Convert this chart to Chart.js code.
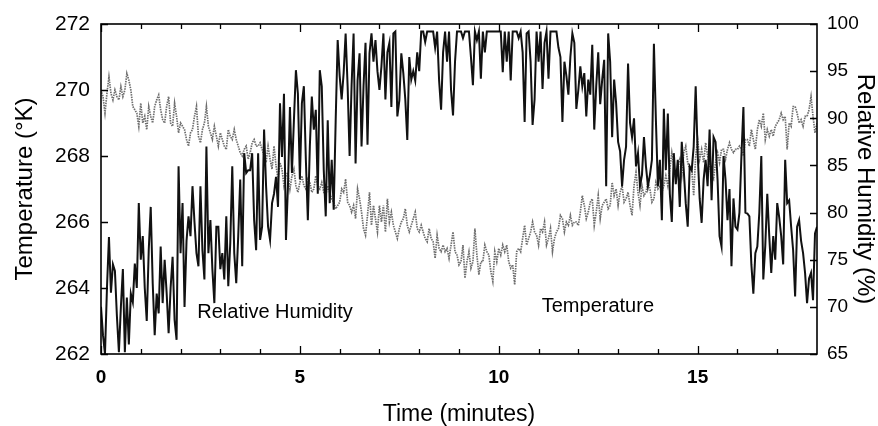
<!DOCTYPE html>
<html>
<head>
<meta charset="utf-8">
<script src="https://cdn.jsdelivr.net/npm/chart.js@4"></script>
<style>
html,body{margin:0;padding:0;background:#fff;}
#wrap{width:878px;height:426px;position:relative;}
</style>
</head>
<body>
<div id="wrap"><canvas id="c" width="878" height="426"></canvas></div>
<script>
// ---- DATA ----
const sampleStepMin = 0.05; // minutes between samples
const xMajorTicks = [0, 5, 10, 15];
const xMinorTicks = [1, 2, 3, 4, 6, 7, 8, 9, 11, 12, 13, 14, 16, 17];
const tempTicks = [262, 264, 266, 268, 270, 272];
const rhTicks = [65, 70, 75, 80, 85, 90, 95, 100];

// Relative humidity (%), right axis, one row per minute
const humidity = [
70, 67, 65, 72, 77.4, 71.5, 74.5, 73.8, 69, 65.2, 70, 74, 65.2, 71, 66, 71.4, 70.5, 74.6, 72, 81,
75, 77.5, 72, 68.5, 76, 80.6, 72.5, 67, 71.4, 69.3, 76.4, 70.4, 75, 71.5, 67.2, 72, 75.3, 68.6, 66.5, 84.9,
75.7, 81, 70, 77, 79.6, 77.5, 82.8, 79, 75.7, 74.3, 82.8, 76, 72.9, 87, 75.7, 79.2, 74, 70.4, 78.5, 78.5,
74, 75.7, 72.9, 79.6, 72.2, 76.8, 84.9, 75.7, 72.5, 77.5, 83.5, 74.3, 86.3, 84.2, 84.5, 84.5, 86.3, 79.2, 76, 86.3,
77.1, 78.5, 88.8, 82.8, 78.5, 77.1, 81, 82, 83.8, 80.6, 91.6, 85.9, 92.6, 77.1, 82.8, 91.2, 84.2, 89.8, 95.1, 92.6,
83.5, 91.6, 93.4, 85.6, 79.2, 87, 92.3, 88.8, 90.9, 82, 95.1, 93.4, 84.5, 79.6, 89.8, 81, 85.6, 80.3, 89.8, 98.3,
94.5, 92, 94.8, 99, 93.4, 86, 93.5, 99, 85.2, 94, 96.9, 87, 93.4, 98, 87.2, 96.9, 99, 96, 98.3, 95,
93, 95.5, 99, 92, 97, 98, 91.2, 99, 99.2, 90.2, 91.9, 96.9, 94.8, 92, 87.7, 96.5, 94.1, 95, 94, 97,
95, 99.2, 99.2, 98.1, 99.2, 99.2, 99.2, 99.2, 97.5, 99.2, 94, 90.9, 97, 99.2, 96, 99.2, 93, 90.3, 96, 99.2,
99.2, 99.2, 98.5, 99.2, 99.2, 99.2, 96.5, 93.5, 99.2, 98.3, 99.2, 94.2, 99.2, 97, 99.2, 99.2, 99.2, 99.2, 99.2, 99.2,
99.2, 99.2, 94.9, 99.2, 96, 99.2, 94, 99.2, 99.2, 99.2, 98.5, 99.2, 97, 89.6, 99, 99.2, 96, 89.3, 92, 99.2,
96, 99.2, 93.1, 98, 99.2, 94.2, 99.2, 99.2, 99.2, 99.2, 97.5, 96.5, 89.6, 96, 94.5, 92.5, 96.5, 99, 98, 91,
93, 95.5, 93.4, 94.8, 90.2, 94.1, 92.5, 97.8, 88.8, 93.4, 97, 91.5, 94.1, 96.2, 82.8, 99, 96, 88, 94.1, 91.6,
87.5, 86.5, 82.8, 85.6, 87, 95.8, 89.5, 88, 90, 84.9, 86.3, 82.8, 84, 88, 84.9, 82.8, 84, 85.6, 97.9, 89.8,
82.8, 85.6, 79.2, 91, 84.5, 90.5, 82, 79, 86.3, 83, 85.6, 80.6, 87.5, 84.5, 81, 78.5, 84.9, 84.5, 87, 93.4,
86.3, 81.5, 78.9, 83.5, 85.6, 82.8, 88.8, 81.3, 88, 87.5, 83.5, 77.5, 76.4, 86, 83.5, 79.2, 82.5, 74.3, 81.5, 78.5,
78.2, 80, 86, 91.2, 80, 79.9, 79.6, 74.5, 71.4, 75.7, 76.4, 80, 86, 72.9, 76.5, 82, 77.5, 73.6, 77.5, 75,
81, 79.5, 77.5, 74.5, 85.6, 81, 81.3, 78.5, 76, 71.1, 78.5, 79.2, 77, 75.7, 73.6, 70.4, 73, 73.6, 70.7, 77.8, 78.5
];

// Temperature (K), left axis, one row per minute
const temperature = [
270.0, 269.8, 269.3, 269.9, 270.4, 269.9, 269.7, 270.0, 269.8, 269.7, 270.1, 269.8, 270.0, 270.5, 270.3, 270.0, 269.5, 269.4, 269.3, 268.9,
269.6, 269.0, 269.2, 268.8, 269.5, 269.2, 269.0, 269.5, 269.7, 269.85, 269.4, 269.1, 269.0, 269.5, 269.8, 269.0, 268.9, 269.6, 269.2, 268.7,
269.0, 268.9, 268.8, 268.5, 268.3, 268.7, 268.8, 269.2, 269.5, 268.6, 268.4, 268.8, 269.0, 269.5, 268.9, 268.7, 268.5, 268.9, 268.6, 268.3,
268.7, 268.5, 268.3, 268.2, 268.8, 268.6, 268.5, 268.8, 268.5, 268.3, 268.1, 268.0, 268.2, 268.3, 267.9, 268.1, 268.4, 268.5, 268.3, 268.3,
268.4, 268.2, 268.0, 267.8, 268.3, 267.9, 267.6, 268.3, 267.7, 267.3, 267.8, 267.6, 267.1, 267.4, 267.5, 267.0, 267.4, 267.6, 267.1, 266.9,
267.2, 267.4, 267.1, 267.0, 267.3, 267.2, 266.9, 267.0, 267.4, 267.1, 267.0, 267.2, 266.9, 266.8, 267.1, 266.9, 266.7, 266.6, 266.4, 266.5,
266.6, 267.0, 266.9, 267.3, 266.6, 266.5, 266.3, 266.5, 266.1, 267.0, 266.7, 266.3, 265.8, 265.6, 266.2, 266.9, 265.9, 266.5, 266.1, 265.7,
266.5, 266.0, 266.5, 265.7, 266.7, 266.0, 266.3, 265.9, 265.7, 265.5, 265.8, 266.0, 266.1, 266.4, 265.9, 265.7, 265.9, 266.1, 266.3, 265.8,
265.7, 265.9, 265.7, 265.5, 265.4, 265.8, 265.5, 265.4, 264.9, 265.6, 265.2, 265.1, 265.3, 265.1, 265.2, 264.9, 265.3, 265.7, 265.1, 265.0,
264.7, 264.8, 265.3, 264.3, 264.8, 265.1, 264.6, 264.8, 265.8, 265.0, 264.4, 264.8, 264.8, 265.3, 265.1, 265.0, 264.5, 264.2, 265.1, 264.8,
265.2, 265.0, 265.3, 265.1, 265.3, 264.8, 264.6, 264.7, 264.1, 265.1, 265.2, 265.1, 265.5, 265.9, 265.3, 265.5, 265.7, 266.0, 265.7, 265.6,
265.3, 265.8, 265.7, 266.0, 265.3, 265.5, 265.8, 265.1, 265.5, 265.7, 265.8, 266.2, 266.1, 265.7, 266.0, 265.9, 266.2, 265.9, 266.0, 266.0,
265.9, 266.3, 266.8, 266.5, 266.1, 266.3, 266.6, 266.7, 265.9, 266.3, 266.8, 266.1, 266.5, 266.6, 266.7, 266.4, 266.5, 267.2, 266.8, 267.0,
266.5, 266.9, 267.1, 266.6, 266.7, 266.9, 266.5, 266.2, 267.1, 267.5, 266.9, 266.5, 267.1, 266.8, 266.9, 267.2, 267.0, 266.6, 266.7, 267.2,
267.0, 267.1, 266.9, 267.1, 267.4, 267.1, 267.6, 268.1, 267.7, 267.3, 267.7, 267.9, 267.4, 268.1, 268.3, 267.8, 267.6, 267.6, 266.8, 268.0,
268.5, 267.9, 268.2, 267.8, 268.4, 268.0, 267.7, 267.4, 267.3, 267.8, 268.1, 267.8, 268.2, 268.2, 267.9, 268.2, 268.4, 268.2, 268.1, 268.2,
268.2, 268.3, 268.2, 268.0, 268.5, 268.5, 268.3, 268.8, 268.5, 268.2, 268.8, 269.1, 268.9, 269.3, 268.5, 268.8, 268.6, 268.8, 268.6, 268.9,
269.0, 269.1, 269.3, 269.1, 269.2, 268.2, 269.0, 268.9, 269.5, 269.5, 269.3, 269.0, 269.1, 268.9, 269.2, 269.2, 269.4, 269.8, 269.2, 268.7, 269.0
];

const annotations = [
  { text: 'Relative Humidity', x: 2.42, y: 263.25 },
  { text: 'Temperature', x: 11.08, y: 263.45 }
];

// ---- BUILD ----
const FONT = '"Liberation Sans", Arial, Helvetica, sans-serif';
const toPoints = arr => arr.map((v, i) => ({ x: +(i * sampleStepMin).toFixed(2), y: v }));

const framePlugin = {
  id: 'frame',
  afterDatasetsDraw(chart) {
    const { ctx, chartArea: a, scales } = chart;
    const xs = scales.x, yl = scales.yT, yr = scales.yRH;
    ctx.save();
    ctx.strokeStyle = '#000';
    ctx.lineWidth = 1.6;
    ctx.strokeRect(a.left, a.top, a.right - a.left, a.bottom - a.top);
    ctx.lineWidth = 1.3;
    ctx.beginPath();
    const xt = (vals, len) => vals.forEach(v => {
      const px = Math.round(xs.getPixelForValue(v)) + 0.5;
      ctx.moveTo(px, a.bottom); ctx.lineTo(px, a.bottom - len);
      ctx.moveTo(px, a.top); ctx.lineTo(px, a.top + len);
    });
    xt(xMajorTicks, 8);
    xt(xMinorTicks, 5);
    tempTicks.forEach(v => {
      const py = Math.round(yl.getPixelForValue(v)) + 0.5;
      ctx.moveTo(a.left, py); ctx.lineTo(a.left + 7, py);
    });
    rhTicks.forEach(v => {
      const py = Math.round(yr.getPixelForValue(v)) + 0.5;
      ctx.moveTo(a.right, py); ctx.lineTo(a.right - 7, py);
    });
    ctx.stroke();
    ctx.fillStyle = '#000';
    ctx.font = '20px ' + FONT;
    ctx.textAlign = 'left';
    ctx.textBaseline = 'middle';
    annotations.forEach(an => {
      ctx.fillText(an.text, xs.getPixelForValue(an.x), yl.getPixelForValue(an.y));
    });
    ctx.restore();
  }
};

const fixedTicks = vals => scale => { scale.ticks = vals.map(v => ({ value: v })); };

new Chart(document.getElementById('c'), {
  type: 'line',
  data: {
    datasets: [
      {
        label: 'Relative Humidity',
        data: toPoints(humidity),
        yAxisID: 'yRH',
        borderColor: '#111',
        borderWidth: 2,
        pointRadius: 0,
        tension: 0,
        fill: false
      },
      {
        label: 'Temperature',
        data: toPoints(temperature),
        yAxisID: 'yT',
        borderColor: '#6e6e6e',
        borderWidth: 1.7,
        borderDash: [1.5, 1],
        pointRadius: 0,
        tension: 0,
        fill: false
      }
    ]
  },
  options: {
    responsive: false,
    devicePixelRatio: 1,
    animation: false,
    events: [],
    layout: { padding: { top: 24, left: 0, right: 0, bottom: 0 } },
    plugins: { legend: { display: false }, tooltip: { enabled: false } },
    scales: {
      x: {
        type: 'linear', position: 'bottom', min: 0, max: 18,
        afterBuildTicks: fixedTicks(xMajorTicks),
        afterFit: s => { s.height = 72; },
        grid: { display: false, drawTicks: false },
        border: { display: false },
        ticks: { color: '#000', padding: 12, font: { family: FONT, size: 19, weight: 'bold' } },
        title: { display: true, text: 'Time (minutes)', color: '#000', padding: 0,
                 font: { family: FONT, size: 23, lineHeight: 1 } }
      },
      yT: {
        type: 'linear', position: 'left', min: 262, max: 272,
        afterBuildTicks: fixedTicks(tempTicks),
        afterFit: s => { s.width = 101; },
        grid: { display: false, drawTicks: false },
        border: { display: false },
        ticks: { color: '#000', padding: 11, font: { family: FONT, size: 21 } },
        title: { display: true, text: 'Temperature (°K)', color: '#000', padding: { top: 13, bottom: 13 },
                 font: { family: FONT, size: 24, lineHeight: 1 } }
      },
      yRH: {
        type: 'linear', position: 'right', min: 65, max: 100,
        afterBuildTicks: fixedTicks(rhTicks),
        afterFit: s => { s.width = 61; },
        grid: { display: false, drawTicks: false },
        border: { display: false },
        ticks: { color: '#000', padding: 10, font: { family: FONT, size: 19 } },
        title: { display: true, text: 'Relative Humidity (%)', color: '#000', padding: { top: 1, bottom: 1 },
                 font: { family: FONT, size: 24, lineHeight: 1 } }
      }
    }
  },
  plugins: [framePlugin]
});
</script>
</body>
</html>
